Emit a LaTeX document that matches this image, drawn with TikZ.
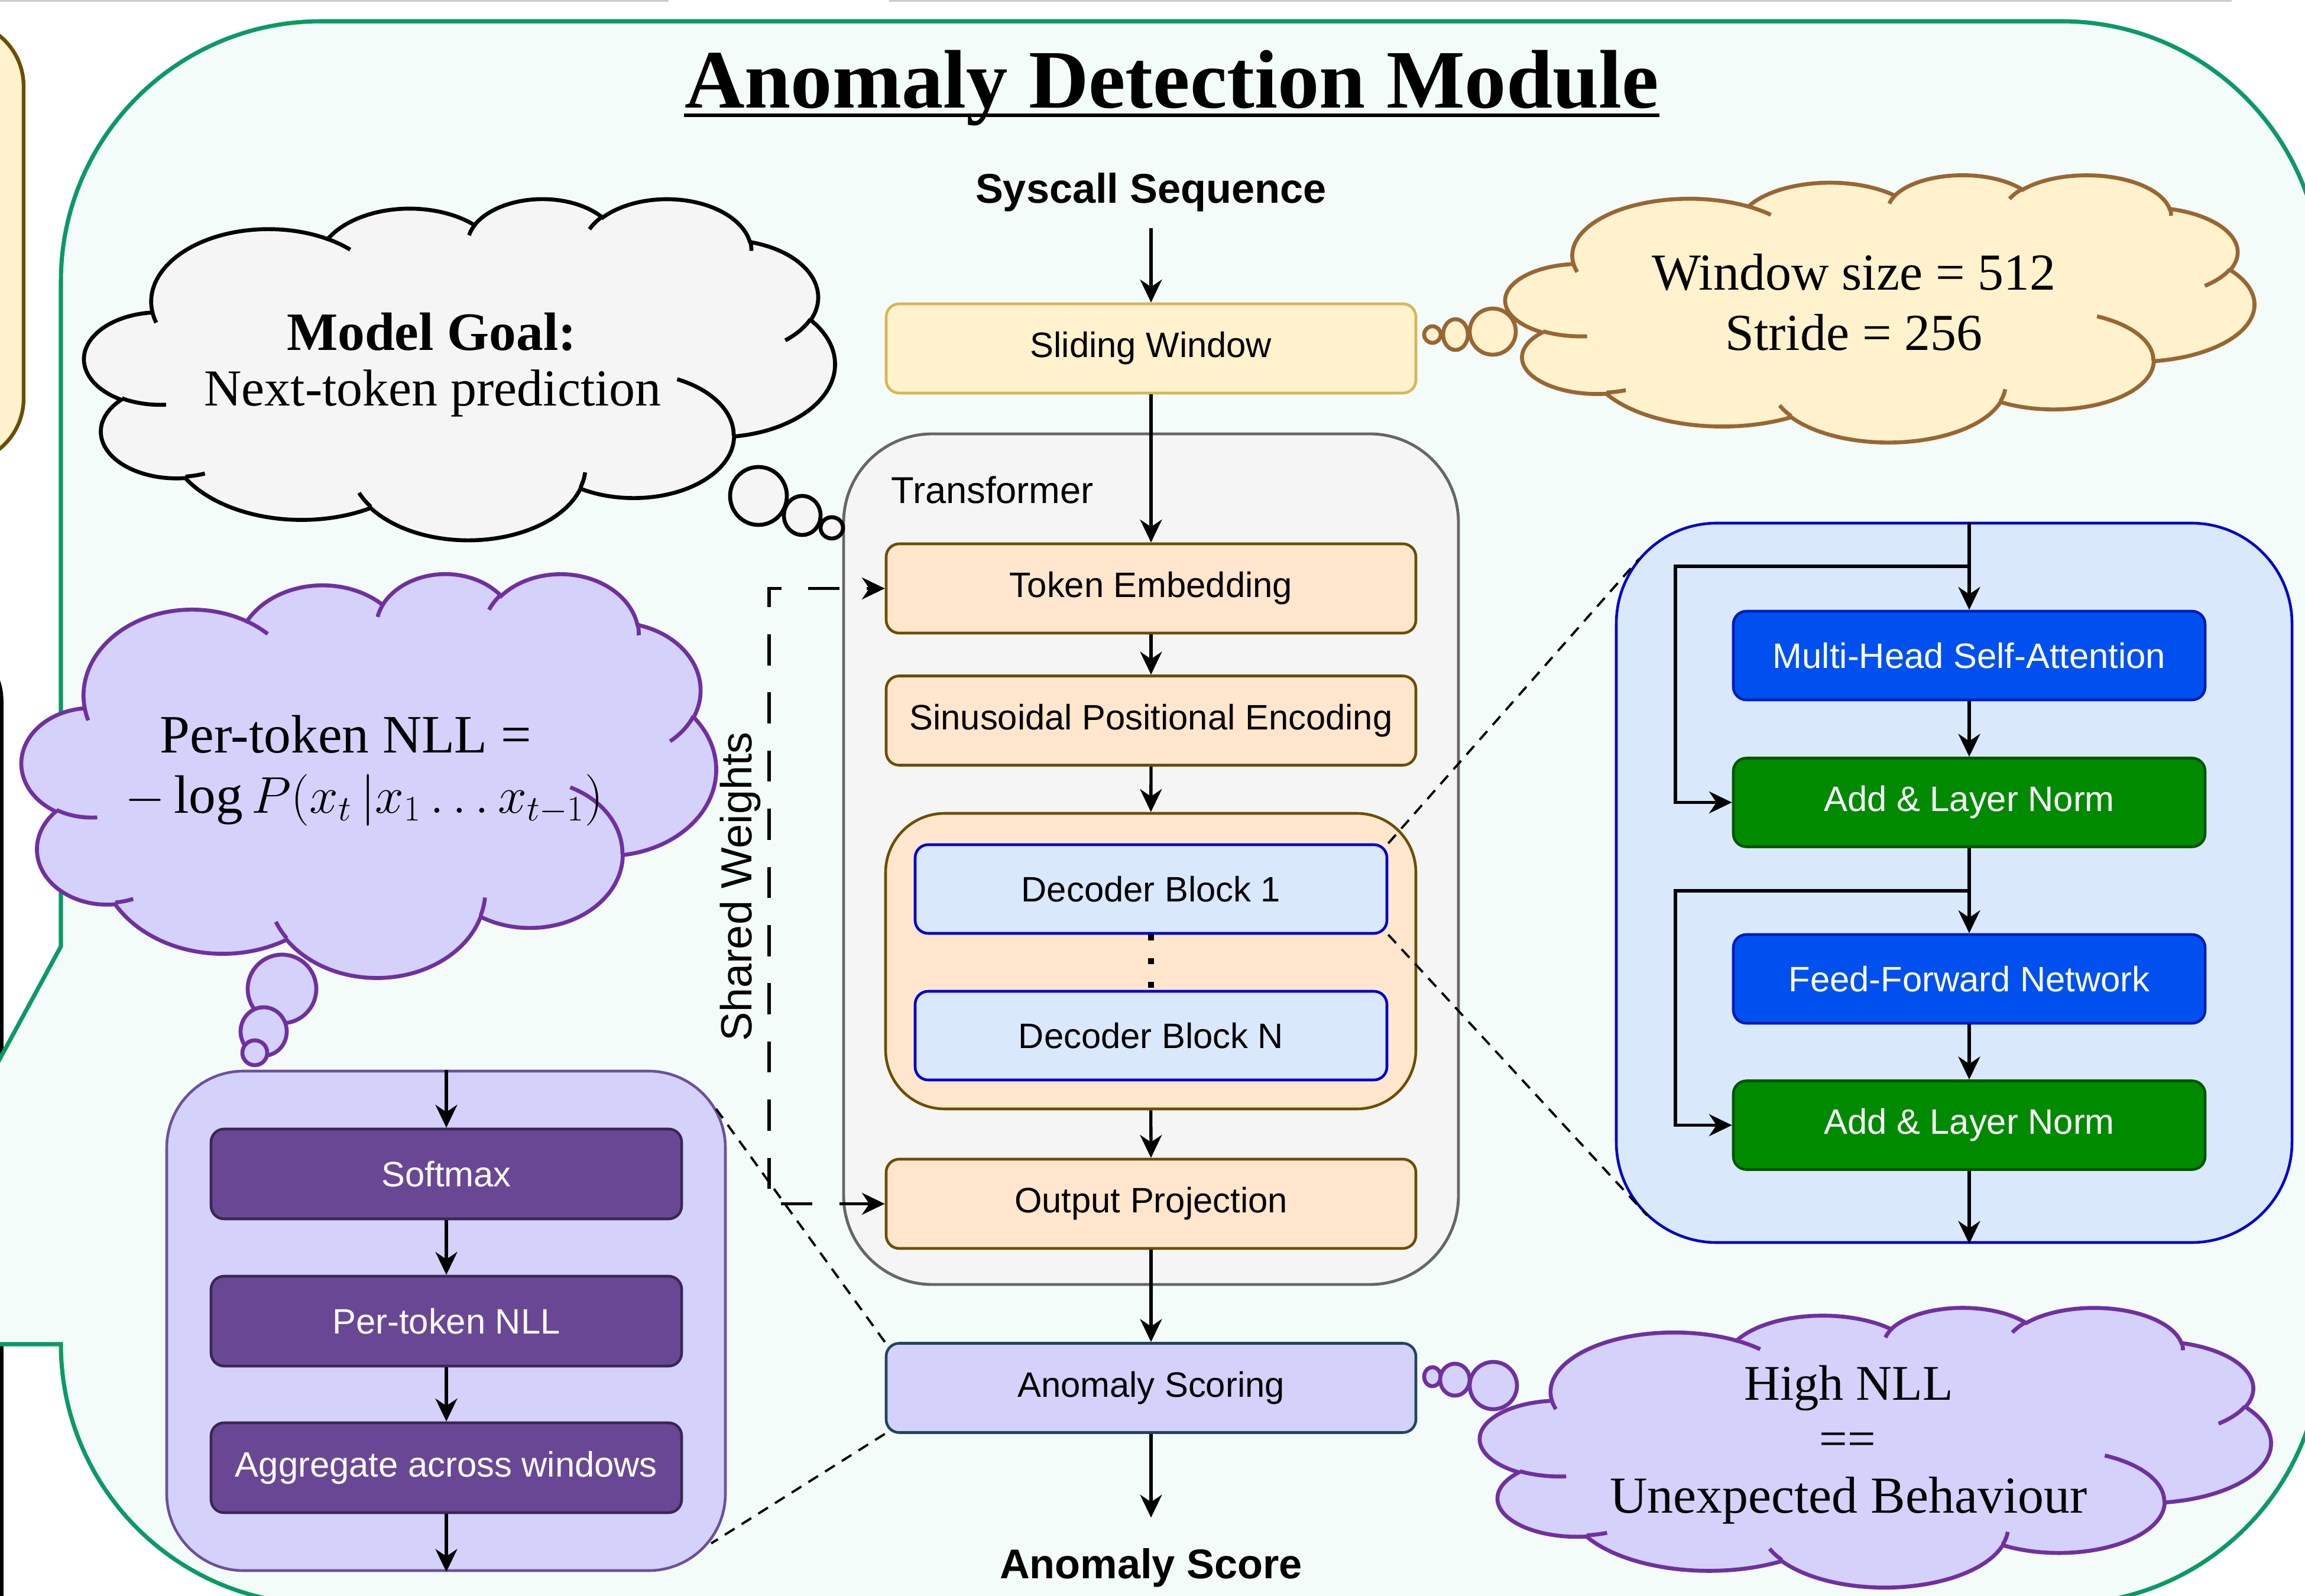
\documentclass[tikz,border=0pt]{standalone}
\usepackage{fontspec}
\setmainfont{Liberation Serif}
\setsansfont{Liberation Sans}
\usetikzlibrary{arrows.meta,positioning}

\definecolor{adgreen}{HTML}{0B9A63}
\definecolor{admint}{HTML}{F3FCF8}
\definecolor{swfill}{HTML}{FFF2CC}
\definecolor{swline}{HTML}{D6B656}
\definecolor{orfill}{HTML}{FFE6CC}
\definecolor{orline}{HTML}{6B4E00}
\definecolor{blfill}{HTML}{DAE8FC}
\definecolor{blline}{HTML}{0000CC}
\definecolor{mhfill}{HTML}{0050EF}
\definecolor{mhline}{HTML}{001DBC}
\definecolor{gnfill}{HTML}{008A00}
\definecolor{gnline}{HTML}{005700}
\definecolor{lvfill}{HTML}{D4D1FA}
\definecolor{lvline}{HTML}{6D4F9E}
\definecolor{pufill}{HTML}{6A4795}
\definecolor{puline}{HTML}{3B2754}
\definecolor{asline}{HTML}{23445D}
\definecolor{cloudpurple}{HTML}{7030A0}
\definecolor{cloudbrown}{HTML}{996633}
\definecolor{tfmfill}{HTML}{F5F5F5}
\definecolor{tfmline}{HTML}{666666}

\pgfmathdeclarefunction{vang}{3}{%
  \begingroup
    \pgfmathparse{atan2(#2*sin(#1),#3*cos(#1))}%
    \pgfmathsmuggle\pgfmathresult
  \endgroup}

\tikzset{
  boxbase/.style={rectangle, rounded corners=0.22cm, line width=1.3pt, inner sep=0pt,
    font=\sffamily\fontsize{17}{20}\selectfont},
  swbox/.style={boxbase, fill=swfill, draw=swline, minimum width=8.96cm, minimum height=1.51cm},
  orbox/.style={boxbase, fill=orfill, draw=orline, minimum width=8.96cm, minimum height=1.51cm},
  asbox/.style={boxbase, fill=lvfill, draw=asline, minimum width=8.96cm, minimum height=1.51cm},
  decblock/.style={boxbase, fill=blfill, draw=blline, minimum width=7.98cm, minimum height=1.50cm},
  mhbox/.style={boxbase, fill=mhfill, draw=mhline, text=white, minimum width=7.98cm, minimum height=1.50cm},
  gnbox/.style={boxbase, fill=gnfill, draw=gnline, text=white, minimum width=7.98cm, minimum height=1.50cm},
  pubox/.style={boxbase, fill=pufill, draw=puline, text=white, minimum width=7.96cm, minimum height=1.52cm},
  deccont/.style={rectangle, rounded corners=1cm, fill=orfill, draw=orline, line width=1.3pt,
    minimum width=8.97cm, minimum height=5cm},
  tfmbox/.style={rectangle, rounded corners=1.5cm, fill=tfmfill, draw=tfmline, line width=1.4pt},
  blpanel/.style={rectangle, rounded corners=1.7cm, fill=blfill, draw=blline, line width=1.3pt},
  lvpanel/.style={rectangle, rounded corners=1.3cm, fill=lvfill, draw=lvline, line width=1.3pt},
  headtext/.style={font=\sffamily\bfseries\fontsize{20}{24}\selectfont, inner sep=0pt, anchor=base},
  cloudtext/.style={inner sep=0pt, anchor=base},
  cloudline/.style={line width=1.9pt},
  flow/.style={line width=1.5pt, -{Stealth[length=11pt, width=10.5pt, inset=3.5pt]}},
  sharedw/.style={line width=1.6pt, dash pattern=on 15pt off 13pt,
    {Stealth[length=11pt, width=10.5pt, inset=3.5pt]}-{Stealth[length=11pt, width=10.5pt, inset=3.5pt]}},
  zoomline/.style={line width=1.1pt, dash pattern=on 5.5pt off 4pt},
  dots/.style={line width=3pt, dash pattern=on 2.8pt off 8.5pt},
}

\newcommand\officecloud[6]{%
  \begin{scope}[shift={(#3,#4)}, x={({#5/43.2},0)}, y={(0,{-#6/43.2})}]
    \filldraw[fill=#1, draw=#2, cloudline] (3.900,14.370)
      \foreach \rw/\rh/\sa/\da in {6.753/9.190/-190.487/123.781, 5.333/7.267/-144.102/89.945,
        4.365/5.945/-145.808/99.723, 4.857/6.595/-130.986/117.242, 5.333/7.273/-78.709/109.027,
        6.775/9.220/-46.267/130.269, 5.785/7.867/0.625/114.033, 6.752/9.215/22.452/115.173,
        7.720/10.543/66.243/75.711, 4.360/5.918/-274.942/146.736, 4.345/5.945/-246.829/152.519}
      {arc[x radius=\rw, y radius=\rh, start angle={vang(\sa,\rw,\rh)},
        delta angle={mod(vang(\sa+\da,\rw,\rh)-vang(\sa,\rw,\rh)+720,360)}]} -- cycle;
    \draw[draw=#2, cloudline]
      \foreach \px/\py/\rw/\rh/\sa/\da in {4.693/26.177/4.345/5.945/86.742/26.430,
        6.928/34.899/4.360/5.918/73.610/11.447, 16.478/39.090/6.752/9.215/137.624/14.081,
        28.827/34.751/6.752/9.215/6.453/15.998, 34.129/22.954/5.785/7.867/-70.292/70.917,
        41.798/15.354/5.333/7.273/30.318/27.752, 38.324/5.426/4.857/6.595/-13.744/14.859,
        29.078/3.952/4.857/6.595/-149.181/18.195, 22.141/4.720/4.365/5.945/-163.494/17.686,
        14.000/5.192/6.753/9.190/-66.707/12.319, 4.127/15.789/6.753/9.190/157.654/11.858}
      {(\px,\py) arc[x radius=\rw, y radius=\rh, start angle={vang(\sa,\rw,\rh)},
        delta angle={mod(vang(\sa+\da,\rw,\rh)-vang(\sa,\rw,\rh)+720,360)}]};
  \end{scope}}

\begin{document}
\begin{tikzpicture}
\useasboundingbox (0,0) rectangle (38.99,-27);
\clip (0,0) rectangle (38.99,-27);

\draw[black!20, line width=1pt] (0,-0.01) -- (11.31,-0.01) (15.04,-0.01) -- (37.75,-0.01);
\draw[fill=swfill, draw=orline, line width=1.8pt, rounded corners=1.1cm] (-3,-0.36) rectangle (0.40,-7.84);
\draw[line width=1.6pt, rounded corners=1cm] (-2,-10.85) -| (0.03,-28);

\path[fill=admint, draw=adgreen, line width=2pt] (1.03,-16.01) -- (1.03,-4.76)
  arc[start angle=180, end angle=90, radius=4.4] -- (34.87,-0.36)
  arc[start angle=90, end angle=0, radius=4.4] -- (39.27,-22.74)
  arc[start angle=0, end angle=-90, radius=4.4] -- (5.43,-27.14)
  arc[start angle=270, end angle=180, radius=4.4] -- (-1,-22.74) -- (-1,-19.75) -- cycle;

\node[anchor=base, inner sep=0pt, font=\bfseries\fontsize{40}{48}\selectfont] (title) at (19.82,-1.83) {Anomaly Detection Module};
\draw[line width=1.7pt] ([yshift=-3.4pt]title.base west) -- ([yshift=-3.4pt]title.base east);

\node[headtext] (sysq) at (19.47,-3.44) {Syscall Sequence};
\node[swbox] (slide) at (19.47,-5.895) {Sliding Window};
\node[tfmbox, minimum width=10.40cm, minimum height=14.39cm] (tfm) at (19.47,-14.535) {};
\node[anchor=base west, inner sep=0pt, font=\sffamily\fontsize{18}{22}\selectfont] (tfmlabel) at (15.07,-8.52) {Transformer};
\node[orbox] (tokemb) at (19.47,-9.955) {Token Embedding};
\node[orbox] (sinus) at (19.47,-12.19) {Sinusoidal Positional Encoding};
\node[deccont] (decs) at (19.465,-16.26) {};
\node[decblock] (dec1) at (19.47,-15.04) {Decoder Block 1};
\node[decblock] (decN) at (19.47,-17.52) {Decoder Block N};
\node[orbox] (outproj) at (19.47,-20.365) {Output Projection};
\node[asbox] (score) at (19.47,-23.48) {Anomaly Scoring};
\node[headtext] (ascore) at (19.47,-26.70) {Anomaly Score};

\draw[flow, shorten <=7.7pt] (sysq) -- (slide);
\draw[flow] (slide) -- (tokemb);
\draw[flow] (tokemb) -- (sinus);
\draw[flow] (sinus) -- (decs);
\draw[dots] (dec1) -- (decN);
\draw[flow] (decs) -- (outproj);
\draw[flow] (outproj) -- (score);
\draw[flow, shorten >=14.5pt] (score) -- (ascore);

\draw[sharedw] (outproj.west) -- ++(-1.96,0) |- (tokemb.west);
\node[rotate=90, inner sep=0pt, font=\sffamily\fontsize{21}{25}\selectfont] (shared) at (12.52,-15.0) {Shared Weights};

\node[blpanel, minimum width=11.43cm, minimum height=12.17cm] (dpanel) at (33.055,-14.935) {};
\node[mhbox] (mhsa) at (33.31,-11.09) {Multi-Head Self-Attention};
\node[gnbox] (add1) at (33.31,-13.575) {Add \& Layer Norm};
\node[mhbox] (ffn) at (33.31,-16.56) {Feed-Forward Network};
\node[gnbox] (add2) at (33.31,-19.035) {Add \& Layer Norm};
\coordinate (res1) at (33.31,-9.58);
\coordinate (res2) at (33.31,-15.07);
\draw[flow] (mhsa.north |- dpanel.north) -- (mhsa);
\draw[flow] (res1) -- ++(-4.97,0) |- (add1.west);
\draw[flow] (mhsa) -- (add1);
\draw[flow] (add1) -- (ffn);
\draw[flow] (res2) -- ++(-4.97,0) |- (add2.west);
\draw[flow] (ffn) -- (add2);
\draw[flow] (add2) -- (add2.south |- dpanel.south);

\node[lvpanel, minimum width=9.45cm, minimum height=8.45cm] (lpanel) at (7.545,-22.345) {};
\node[pubox] (softmax) at (7.55,-19.86) {Softmax};
\node[pubox] (nll) at (7.55,-22.35) {Per-token NLL};
\node[pubox] (aggr) at (7.55,-24.83) {Aggregate across windows};
\draw[flow] (softmax.north |- lpanel.north) -- (softmax);
\draw[flow] (softmax) -- (nll);
\draw[flow] (nll) -- (aggr);
\draw[flow] (aggr) -- (aggr.south |- lpanel.south);

\coordinate (rzoomtop) at (27.73,-9.45);
\coordinate (rzoombot) at (27.86,-20.56);
\coordinate (lzoomtop) at (12.07,-18.70);
\coordinate (lzoombot) at (12.03,-26.11);
\draw[zoomline] (dec1.north east) -- (rzoomtop);
\draw[zoomline] (dec1.south east) -- (rzoombot);
\draw[zoomline] (score.north west) -- (lzoomtop);
\draw[zoomline] (score.south west) -- (lzoombot);

\officecloud{tfmfill}{black}{1.43}{-3.35}{12.69}{5.77}
\draw[fill=tfmfill, cloudline] (12.83,-8.39) ellipse[x radius=0.48, y radius=0.49];
\draw[fill=tfmfill, cloudline] (13.57,-8.72) ellipse[x radius=0.31, y radius=0.33];
\draw[fill=tfmfill, cloudline] (14.07,-8.93) ellipse[x radius=0.19, y radius=0.18];
\node[cloudtext, font=\bfseries\fontsize{26}{30}\selectfont] (goal) at (7.30,-5.93) {Model Goal:};
\node[cloudtext, font=\fontsize{25}{29}\selectfont] (goaltxt) at (7.32,-6.87) {Next-token prediction};

\officecloud{swfill}{cloudbrown}{25.47}{-2.95}{12.66}{4.52}
\draw[fill=swfill, draw=cloudbrown, cloudline] (24.23,-5.66) circle[radius=0.14];
\draw[fill=swfill, draw=cloudbrown, cloudline] (24.62,-5.66) ellipse[x radius=0.21, y radius=0.26];
\draw[fill=swfill, draw=cloudbrown, cloudline] (25.25,-5.61) ellipse[x radius=0.39, y radius=0.39];
\node[cloudtext, font=\fontsize{25}{29}\selectfont] (winsize) at (31.36,-4.91) {Window size = 512};
\node[cloudtext, font=\fontsize{25}{29}\selectfont] (stride) at (31.36,-5.93) {Stride = 256};

\officecloud{lvfill}{cloudpurple}{0.37}{-9.69}{11.74}{6.83}
\draw[fill=lvfill, draw=cloudpurple, cloudline] (4.77,-16.73) ellipse[x radius=0.58, y radius=0.58];
\draw[fill=lvfill, draw=cloudpurple, cloudline] (4.46,-17.45) ellipse[x radius=0.39, y radius=0.41];
\draw[fill=lvfill, draw=cloudpurple, cloudline] (4.31,-17.81) circle[radius=0.21];
\node[cloudtext, font=\fontsize{26}{30}\selectfont] (nlldef) at (5.85,-12.73) {Per-token NLL =};
\node[cloudtext, font=\fontsize{26}{30}\selectfont] (nllmath) at (6.16,-13.75) {$-\log P(x_t\,|x_1 \ldots x_{t-1})$};

\officecloud{lvfill}{cloudpurple}{25.04}{-22.11}{13.37}{4.73}
\draw[fill=lvfill, draw=cloudpurple, cloudline] (24.23,-23.29) ellipse[x radius=0.14, y radius=0.16];
\draw[fill=lvfill, draw=cloudpurple, cloudline] (24.61,-23.34) ellipse[x radius=0.25, y radius=0.27];
\draw[fill=lvfill, draw=cloudpurple, cloudline] (25.26,-23.44) ellipse[x radius=0.40, y radius=0.40];
\node[cloudtext, font=\fontsize{24}{28}\selectfont] (highnll) at (31.27,-23.68) {High NLL};
\node[cloudtext, font=\fontsize{24}{28}\selectfont] (equiv) at (31.25,-24.62) {==};
\node[cloudtext, font=\fontsize{25}{29}\selectfont] (unexp) at (31.27,-25.59) {Unexpected Behaviour};
\end{tikzpicture}
\end{document}
